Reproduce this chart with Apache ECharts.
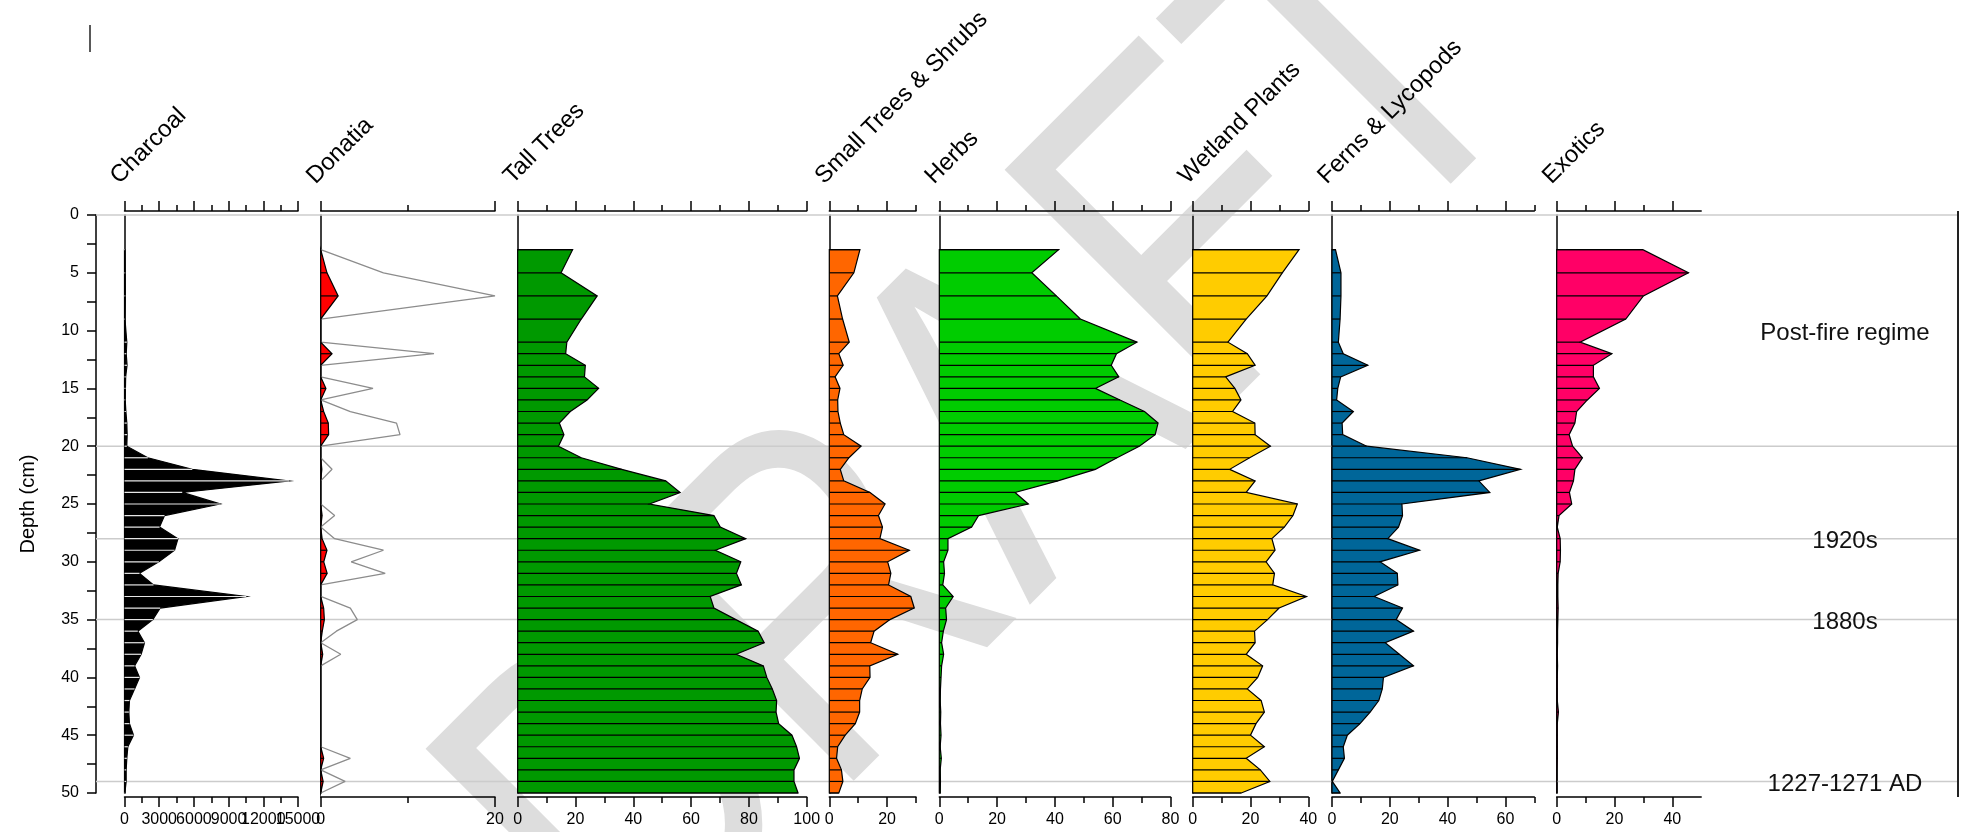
<!DOCTYPE html>
<html>
<head>
<meta charset="utf-8">
<title>Pollen and charcoal diagram</title>
<script src="https://cdn.jsdelivr.net/npm/echarts@6/dist/echarts.min.js"></script>
<style>
  html, body { margin: 0; padding: 0; background: #ffffff; }
  #chart { width: 1966px; height: 832px; }
</style>
</head>
<body>
<div id="chart"></div>
<script>
// ---- Data ---------------------------------------------------------------
// Sample depths (cm)
const depths = [3, 5, 7, 9, 11, 12, 13, 14, 15, 16, 17, 18, 19, 20, 21, 22, 23, 24, 25, 26,
  27, 28, 29, 30, 31, 32, 33, 34, 35, 36, 37, 38, 39, 40, 41, 42, 43, 44, 45, 46, 47, 48, 49, 50];

// Charcoal concentration
const charcoal = [50, 60, 70, 40, 200, 150, 220, 100, 80, 60, 120, 200, 230, 200,
  2020, 5860, 14220, 4990, 8280, 3460, 3030, 4620, 4330, 2970,
  1300, 2510, 10530, 3090, 2450, 1150, 1730, 1440, 870, 1300,
  870, 430, 375, 430, 780, 290, 200, 145, 145, 30];

// Donatia (%)
const donatia = [0, 0.72, 2.0, 0, 0, 1.3, 0, 0, 0.6, 0, 0.34, 0.87, 0.91, 0,
  0, 0.13, 0, 0, 0, 0.16, 0, 0.16, 0.72, 0.35,
  0.74, 0, 0, 0.34, 0.42, 0.18, 0, 0.23, 0, 0,
  0, 0, 0, 0, 0, 0, 0.34, 0, 0.28, 0];

// Pollen groups (%)
const tallTrees = [19, 15, 27.5, 22, 17, 16.6, 23.4, 23.1, 28, 24, 18.2, 14.4, 16, 14.1,
  22, 36, 51.2, 56.2, 45.6, 67.9, 70.1, 78.9, 68.4, 77.2,
  75.7, 77.4, 66.6, 67.9, 75.5, 83.2, 85.3, 75.6, 85, 86.2,
  88.1, 89.6, 89.4, 90.3, 94.9, 96.5, 97.5, 95.6, 95.6, 97];

const smallTrees = [10.6, 8.5, 2.8, 4.6, 6.9, 3.3, 4.8, 2.0, 3.7, 2.9, 3.0, 3.8, 5.0, 11.0,
  6.8, 3.8, 5.0, 14.1, 19.3, 17.0, 18.4, 17.5, 27.7, 20.2,
  21.3, 20.5, 28.2, 29.4, 21.0, 15.5, 14.3, 23.7, 14.0, 14.1,
  11.4, 10.5, 10.5, 9.0, 5.5, 2.9, 2.5, 4.2, 4.7, 3.3];

const herbs = [41.3, 32, 40.5, 48.8, 68.4, 61.3, 59.5, 62.1, 54, 62.5, 71, 75.7, 74.7, 69.2,
  61.5, 54, 41, 26.2, 30.8, 13.6, 11.2, 3, 3, 1.5,
  1.8, 1.2, 4.8, 2.2, 2.5, 1.4, 0.8, 1.5, 0.8, 0.6,
  0.4, 0.3, 0.5, 0.4, 0.6, 0.3, 0.7, 0.3, 0.4, 0.3];

const wetland = [36.8, 31, 25.7, 18.5, 12.2, 18.9, 21.6, 11.4, 14.6, 16.7, 13.8, 21.5, 21.6, 26.9,
  19.7, 12.8, 21.6, 18.5, 36.2, 34.7, 31.7, 27.4, 28.5, 25.4,
  28.3, 27.7, 39.4, 29.9, 25.9, 21.4, 21.6, 18.5, 24.2, 22.5,
  18.9, 23.7, 24.8, 21.9, 20, 24.8, 18.5, 23.4, 26.7, 16.8];

const ferns = [1.2, 3.1, 3.1, 2.8, 2.2, 3.9, 12.4, 3.0, 2.0, 1.6, 7.4, 3.5, 3.7, 12.0,
  46.7, 65.2, 50.8, 54.6, 24.2, 24.4, 23.0, 19.3, 30.3, 16.6,
  22.6, 22.8, 14.6, 24.4, 22.2, 28.2, 18.4, 23.3, 28.2, 17.8,
  17.4, 16.2, 13.2, 9.7, 5.3, 3.9, 4.3, 2.2, 0.1, 2.8];

const exotics = [29.8, 45.6, 30.0, 23.9, 8.1, 19.1, 12.7, 12.7, 14.8, 10.6, 6.9, 6.3, 4.3, 5.5,
  8.9, 6.3, 5.8, 4.4, 5.2, 0.8, 0.2, 1.2, 1.3, 1.2,
  0.5, 0.4, 0.4, 0.5, 0.4, 0.3, 0.3, 0.2, 0.3, 0.2,
  0.2, 0.2, 0.6, 0.2, 0.2, 0.2, 0.2, 0.1, 0.1, 0.1];

// Exaggeration used for the Donatia outline curve
const donatiaExaggeration = 10;

const panelNames = ['Charcoal', 'Donatia', 'Tall Trees', 'Small Trees & Shrubs',
  'Herbs', 'Wetland Plants', 'Ferns & Lycopods', 'Exotics'];
const panelValues = [charcoal, donatia, tallTrees, smallTrees, herbs, wetland, ferns, exotics];

// Axis ranges and tick marks of each panel
const axisMax = [15000, 20, 100, 30, 80, 40, 70, 50];
const majorTicks = [
  [0, 3000, 6000, 9000, 12000, 15000],
  [0, 20],
  [0, 20, 40, 60, 80, 100],
  [0, 20],
  [0, 20, 40, 60, 80],
  [0, 20, 40],
  [0, 20, 40, 60],
  [0, 20, 40]
];
const minorTicks = [
  [1500, 4500, 7500, 10500, 13500],
  [10],
  [10, 30, 50, 70, 90],
  [10, 30],
  [10, 30, 50, 70],
  [10, 30],
  [10, 30, 50, 70],
  [10, 30]
];

// Depth axis
const depthLabels = [0, 5, 10, 15, 20, 25, 30, 35, 40, 45, 50];
const depthTicks = [0, 2.5, 5, 7.5, 10, 12.5, 15, 17.5, 20, 22.5, 25, 27.5, 30, 32.5,
  35, 37.5, 40, 42.5, 45, 47.5, 50];

// Zone boundaries and annotations
const zoneDepths = [0, 20, 28, 35, 49];
const annotationDepths = [10, 28, 35, 49];
const annotationTexts = ['Post-fire regime', '1920s', '1880s', '1227-1271 AD'];

// ---- Layout & style -------------------------------------------------------
const FONT = '"Liberation Sans", Arial, Helvetica, sans-serif';
const PLOT_TOP = 215;
const PLOT_HEIGHT = 578;
const PCT_PX = 2.89;          // pixels per percent on the pollen panels
const panelStyle = [
  { left: 124.5, width: 173.5, fill: '#000000', rule: '#e6e6e6' },
  { left: 320.7, width: 174.3, fill: '#ff0000', rule: '#000000' },
  { left: 517.7, fill: '#009900', rule: '#000000' },
  { left: 829.3, fill: '#ff6600', rule: '#000000' },
  { left: 939.3, fill: '#00cc00', rule: '#000000' },
  { left: 1192.7, fill: '#ffcc00', rule: '#000000' },
  { left: 1332.0, fill: '#006699', rule: '#000000' },
  { left: 1556.7, fill: '#ff0066', rule: '#000000' }
];
panelStyle.forEach(function (p, i) {
  if (p.width === undefined) p.width = axisMax[i] * PCT_PX;
});
const DEPTH_AXIS_X = 96;
const RIGHT_EDGE_X = 1958;
const ANNOT_X = 1845;
const TICK_FONT = 16;
const LABEL_MARGIN = 15;
const AXIS_OFFSET = 4;

const chart = echarts.init(document.getElementById('chart'), null, { renderer: 'canvas' });

const grids = [];
const xAxes = [];
const yAxes = [];
const series = [];
const graphics = [];

function xAxisDef(gridIndex, max, position, ticks, tickLen, showLine, labels) {
  return {
    type: 'value', gridIndex: gridIndex, min: 0, max: max, position: position, offset: AXIS_OFFSET,
    axisLine: { show: showLine, onZero: false, lineStyle: { color: '#000', width: 1.5 } },
    axisTick: { show: true, inside: false, length: tickLen, customValues: ticks,
      lineStyle: { color: '#000', width: 1.5 } },
    axisLabel: labels
      ? { show: true, customValues: labels, margin: LABEL_MARGIN, color: '#000', fontSize: TICK_FONT,
          fontFamily: FONT, showMinLabel: true, showMaxLabel: true, hideOverlap: false,
          formatter: function (v) { return String(v); } }
      : { show: false },
    splitLine: { show: false }
  };
}

function profileRenderer(values, fill, rule, stroke) {
  return function (params, api) {
    if (params.dataIndex !== 0) return null;
    const last = depths.length - 1;
    const pts = [api.coord([0, depths[0]])];
    for (let i = 0; i < values.length; i++) pts.push(api.coord([values[i], depths[i]]));
    pts.push(api.coord([0, depths[last]]));
    const children = [{
      type: 'polygon', shape: { points: pts },
      style: { fill: fill, stroke: stroke, lineWidth: 1.2, lineJoin: 'miter' }
    }];
    for (let i = 0; i < values.length; i++) {
      const a = api.coord([0, depths[i]]);
      const b = api.coord([values[i], depths[i]]);
      children.push({
        type: 'line', shape: { x1: a[0], y1: a[1], x2: b[0], y2: b[1] },
        style: { stroke: rule, lineWidth: 1.2 }
      });
    }
    return { type: 'group', children: children };
  };
}

panelStyle.forEach(function (p, i) {
  const gMain = 2 * i, gMinor = 2 * i + 1;
  const rect = { left: p.left, width: p.width, top: PLOT_TOP, height: PLOT_HEIGHT };
  grids.push(Object.assign({}, rect), Object.assign({}, rect));

  // The charcoal scale labels are crowded and overlap each other, so they are
  // drawn by a custom series below instead of by the axis.
  const bottomLabels = i === 0 ? null : majorTicks[i];
  xAxes.push(xAxisDef(gMain, axisMax[i], 'top', majorTicks[i], 10, true, null));
  xAxes.push(xAxisDef(gMain, axisMax[i], 'bottom', majorTicks[i], 10, true, bottomLabels));
  xAxes.push(xAxisDef(gMinor, axisMax[i], 'top', minorTicks[i], 6, false, null));
  xAxes.push(xAxisDef(gMinor, axisMax[i], 'bottom', minorTicks[i], 6, false, null));

  yAxes.push({
    type: 'value', gridIndex: gMain, min: 0, max: 50, inverse: true,
    axisLine: { show: true, lineStyle: { color: '#000', width: 1.5 } },
    axisTick: { show: false }, axisLabel: { show: false }, splitLine: { show: false }
  });
  yAxes.push({
    type: 'value', gridIndex: gMinor, min: 0, max: 50, inverse: true, show: false
  });

  series.push({
    type: 'custom', name: panelNames[i], coordinateSystem: 'cartesian2d',
    xAxisIndex: 4 * i, yAxisIndex: gMain, z: 3, silent: true,
    data: panelValues[i].map(function (v, k) { return [v, depths[k]]; }),
    renderItem: profileRenderer(panelValues[i], p.fill, p.rule, '#000000')
  });

  // Panel header, set at 45 degrees above the top axis
  graphics.push({
    type: 'text', x: p.left - 10, y: 180, rotation: Math.PI / 4, z: 10,
    style: { text: panelNames[i], fontSize: 24, fontFamily: FONT, fill: '#000',
      align: 'left', verticalAlign: 'middle' }
  });
});

// Charcoal scale labels (all shown, even where they run into each other)
series.push({
  type: 'custom', name: 'charcoal scale', coordinateSystem: 'cartesian2d',
  xAxisIndex: 0, yAxisIndex: 0, z: 4, silent: true, clip: false,
  data: majorTicks[0].map(function (v) { return [v, 50]; }),
  renderItem: function (params, api) {
    const p = api.coord([api.value(0), api.value(1)]);
    return { type: 'text', x: p[0], y: p[1] + AXIS_OFFSET + LABEL_MARGIN,
      style: { text: String(api.value(0)), fontSize: TICK_FONT, fontFamily: FONT,
        fill: '#000', align: 'center', verticalAlign: 'top' } };
  }
});

// Exaggerated Donatia curve
series.push({
  type: 'line', name: 'Donatia x10', xAxisIndex: 4, yAxisIndex: 2, z: 2,
  showSymbol: false, symbol: 'none', silent: true, animation: false,
  lineStyle: { color: '#8c8c8c', width: 1.3 },
  data: donatia.map(function (v, k) { return [v * donatiaExaggeration, depths[k]]; })
});

// Overlay grid: depth axis, zone lines and zone annotations
const gOverlay = grids.length;
grids.push({ left: DEPTH_AXIS_X, width: RIGHT_EDGE_X - DEPTH_AXIS_X, top: PLOT_TOP, height: PLOT_HEIGHT });
const xOverlay = xAxes.length;
xAxes.push({ type: 'value', gridIndex: gOverlay, min: 0, max: 1, show: false });
const yOverlay = yAxes.length;
yAxes.push({
  type: 'value', gridIndex: gOverlay, min: 0, max: 50, inverse: true, position: 'left',
  name: 'Depth (cm)', nameLocation: 'middle', nameGap: 58, nameRotate: 90,
  nameTextStyle: { fontSize: 20, fontFamily: FONT, color: '#000' },
  axisLine: { show: true, lineStyle: { color: '#000', width: 1.5 } },
  axisTick: { show: true, inside: false, length: 9, customValues: depthTicks,
    lineStyle: { color: '#000', width: 1.5 } },
  axisLabel: { show: true, customValues: depthLabels, margin: 17, color: '#000',
    fontSize: TICK_FONT, fontFamily: FONT, showMinLabel: true, showMaxLabel: true },
  splitLine: { show: false }
});

series.push({
  type: 'custom', name: 'zones', coordinateSystem: 'cartesian2d',
  xAxisIndex: xOverlay, yAxisIndex: yOverlay, z: 1, silent: true,
  data: zoneDepths.map(function (d) { return [0, d]; }),
  renderItem: function (params, api) {
    const d = api.value(1);
    const a = api.coord([0, d]);
    const b = api.coord([1, d]);
    return { type: 'line', shape: { x1: a[0], y1: a[1], x2: b[0], y2: b[1] },
      style: { stroke: '#cccccc', lineWidth: 1.5 } };
  }
});

series.push({
  type: 'custom', name: 'annotations', coordinateSystem: 'cartesian2d',
  xAxisIndex: xOverlay, yAxisIndex: yOverlay, z: 4, silent: true,
  data: annotationDepths.map(function (d, k) { return [0, d, k]; }),
  renderItem: function (params, api) {
    const p = api.coord([0, api.value(1)]);
    return { type: 'text', x: ANNOT_X, y: p[1] + 3,
      style: { text: annotationTexts[api.value(2)], fontSize: 24, fontFamily: FONT,
        fill: '#111', align: 'center', verticalAlign: 'middle' } };
  }
});

// Watermark (narrow lettering, set diagonally), frame line and corner mark
graphics.push({
  type: 'text', x: 998, y: 452, rotation: Math.PI / 4, scaleX: 0.82, scaleY: 1, z: -1,
  style: { text: 'DRAFT', fontSize: 473, fontFamily: FONT, fill: '#dddddd',
    align: 'center', verticalAlign: 'middle' }
});
graphics.push({
  type: 'line', z: 10, shape: { x1: RIGHT_EDGE_X, y1: 211, x2: RIGHT_EDGE_X, y2: 797 },
  style: { stroke: '#222', lineWidth: 2 }
});
graphics.push({
  type: 'line', z: 10, shape: { x1: 90, y1: 25, x2: 90, y2: 52 },
  style: { stroke: '#222', lineWidth: 1.5 }
});

chart.setOption({
  backgroundColor: '#ffffff',
  animation: false,
  textStyle: { fontFamily: FONT },
  grid: grids,
  xAxis: xAxes,
  yAxis: yAxes,
  series: series,
  graphic: { elements: graphics }
});
</script>
</body>
</html>
